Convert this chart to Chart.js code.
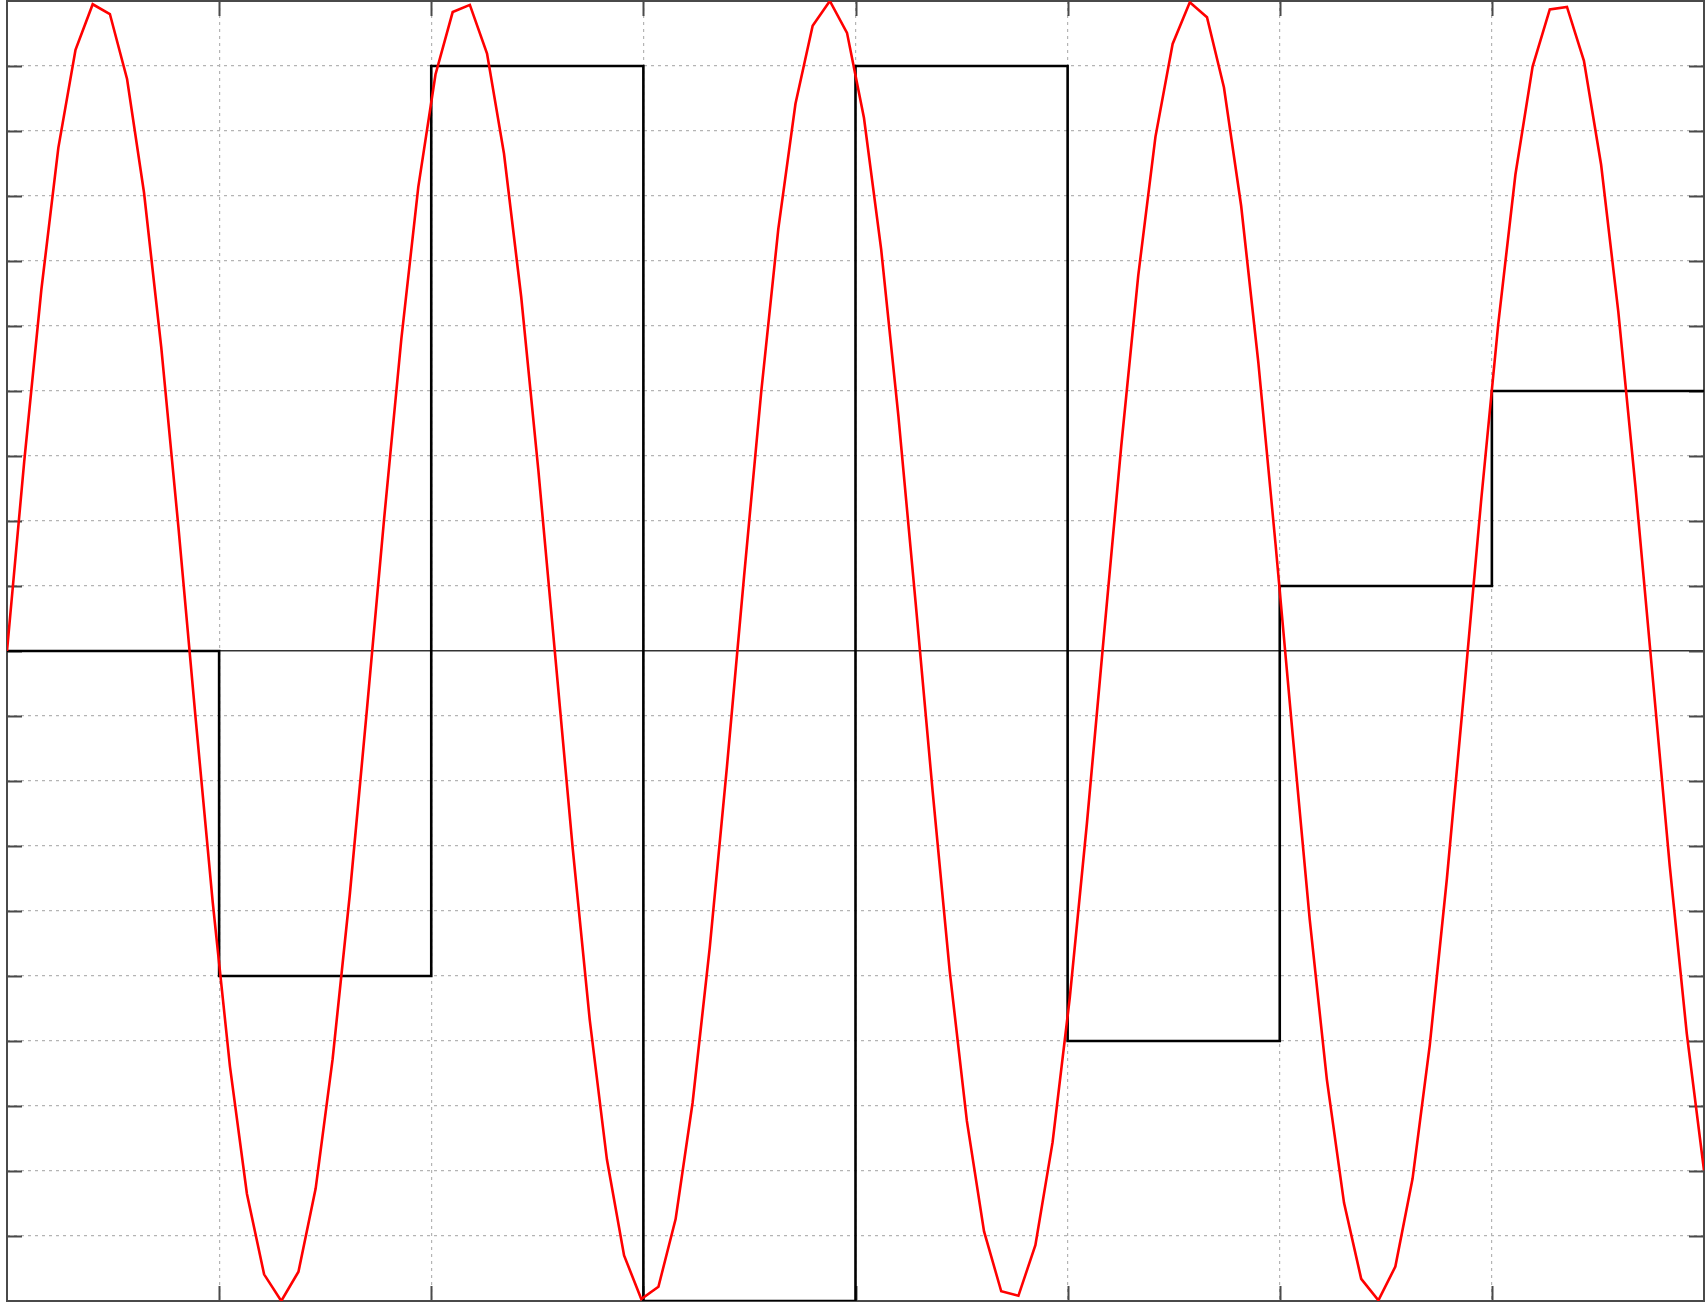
<!DOCTYPE html>
<html lang="en">
<head>
    <meta charset="UTF-8">
    <title>Sine and step</title>
    <script src="https://cdn.jsdelivr.net/npm/chart.js"></script>
    <style>
        html, body { margin: 0; padding: 0; background: #fff; overflow: hidden; }
        #wrap { width: 1706px; height: 1303px; position: relative; }
    </style>
</head>
<body>
    <div id="wrap"><canvas id="plot"></canvas></div>

    <script>
        // sampled sine (red)
        const sineX = [
            0, 0.081, 0.162, 0.242, 0.323, 0.404, 0.485, 0.566, 0.646, 0.727,
            0.808, 0.889, 0.970, 1.051, 1.131, 1.212, 1.293, 1.374, 1.455, 1.535,
            1.616, 1.697, 1.778, 1.859, 1.939, 2.020, 2.101, 2.182, 2.263, 2.343,
            2.424, 2.505, 2.586, 2.667, 2.747, 2.828, 2.909, 2.990, 3.071, 3.152,
            3.232, 3.313, 3.394, 3.475, 3.556, 3.636, 3.717, 3.798, 3.879, 3.960,
            4.040, 4.121, 4.202, 4.283, 4.364, 4.444, 4.525, 4.606, 4.687, 4.768,
            4.848, 4.929, 5.010, 5.091, 5.172, 5.253, 5.333, 5.414, 5.495, 5.576,
            5.657, 5.737, 5.818, 5.899, 5.980, 6.061, 6.141, 6.222, 6.303, 6.384,
            6.465, 6.545, 6.626, 6.707, 6.788, 6.869, 6.949, 7.030, 7.111, 7.192,
            7.273, 7.354, 7.434, 7.515, 7.596, 7.677, 7.758, 7.838, 7.919, 8.000
        ];
        const sineY = [
            0, 0.291, 0.556, 0.774, 0.925, 0.995, 0.980, 0.880, 0.705, 0.468,
            0.191, -0.103, -0.387, -0.639, -0.835, -0.959, -1.000, -0.955, -0.827, -0.628,
            -0.375, -0.089, 0.204, 0.480, 0.714, 0.887, 0.983, 0.994, 0.919, 0.765,
            0.545, 0.278, -0.013, -0.304, -0.567, -0.782, -0.930, -0.997, -0.978, -0.874,
            -0.695, -0.456, -0.178, 0.116, 0.400, 0.649, 0.842, 0.962, 1.000, 0.951,
            0.820, 0.618, 0.362, 0.076, -0.217, -0.492, -0.723, -0.893, -0.985, -0.992,
            -0.914, -0.756, -0.534, -0.265, 0.027, 0.316, 0.578, 0.791, 0.934, 0.998,
            0.975, 0.867, 0.685, 0.444, 0.165, -0.129, -0.412, -0.659, -0.849, -0.966,
            -0.999, -0.947, -0.812, -0.607, -0.350, -0.062, 0.230, 0.503, 0.733, 0.899,
            0.987, 0.991, 0.908, 0.748, 0.522, 0.252, -0.040, -0.329, -0.589, -0.799
        ];

        // step signal (black), value held until the next x
        const stepX = [0, 1, 2, 3, 4, 5, 6, 7, 8];
        const stepY = [0, -0.5, 0.9, -1, 0.9, -0.6, 0.1, 0.4, 0.4];

        const isZero = v => Math.abs(v) < 1e-9;

        // frame + inward tick marks, drawn from the scales
        const framePlugin = {
            id: 'frame',
            beforeDatasetsDraw(chart) {
                const { ctx, chartArea: a, scales } = chart;
                const len = 15;
                ctx.save();
                ctx.strokeStyle = '#4a4a4a';
                ctx.lineWidth = 2;
                ctx.beginPath();
                scales.y.ticks.forEach(t => {
                    if (Math.abs(t.value) >= 0.999) return;
                    const py = Math.round(scales.y.getPixelForValue(t.value)) + 0.5;
                    ctx.moveTo(a.left, py); ctx.lineTo(a.left + len, py);
                    ctx.moveTo(a.right, py); ctx.lineTo(a.right - len, py);
                });
                scales.x.ticks.forEach(t => {
                    if (t.value <= 0 || t.value >= 8) return;
                    const px = Math.round(scales.x.getPixelForValue(t.value)) + 0.5;
                    ctx.moveTo(px, a.top); ctx.lineTo(px, a.top + len);
                    ctx.moveTo(px, a.bottom); ctx.lineTo(px, a.bottom - len);
                });
                ctx.stroke();
                ctx.strokeRect(a.left, a.top, a.right - a.left, a.bottom - a.top);
                ctx.restore();
            }
        };

        const ctx = document.getElementById('plot').getContext('2d');
        new Chart(ctx, {
            type: 'line',
            data: {
                datasets: [
                    {
                        label: 'step',
                        data: stepX.map((x, i) => ({ x, y: stepY[i] })),
                        stepped: 'before',
                        borderColor: '#000000',
                        borderWidth: 2.6,
                        pointRadius: 0,
                        fill: false,
                        order: 2
                    },
                    {
                        label: 'sine',
                        data: sineX.map((x, i) => ({ x, y: sineY[i] })),
                        borderColor: '#ff0000',
                        borderWidth: 2.6,
                        pointRadius: 0,
                        tension: 0,
                        fill: false,
                        order: 1
                    }
                ]
            },
            options: {
                responsive: true,
                maintainAspectRatio: false,
                animation: false,
                events: [],
                layout: { padding: { left: 7, top: 1, right: 2, bottom: 2 } },
                plugins: { legend: { display: false }, tooltip: { enabled: false } },
                scales: {
                    x: {
                        type: 'linear',
                        min: 0,
                        max: 8,
                        ticks: { display: false, stepSize: 1 },
                        grid: { color: '#b4b4b4', lineWidth: 1.2, drawTicks: false },
                        border: { display: false, dash: [3, 4] }
                    },
                    y: {
                        type: 'linear',
                        min: -1,
                        max: 1,
                        ticks: { display: false, stepSize: 0.1 },
                        grid: {
                            drawTicks: false,
                            color: c => (c.tick && isZero(c.tick.value)) ? '#333333' : '#b4b4b4',
                            lineWidth: c => (c.tick && isZero(c.tick.value)) ? 1.6 : 1.2
                        },
                        border: {
                            display: false,
                            dash: c => (c.tick && isZero(c.tick.value)) ? [] : [3, 4]
                        }
                    }
                }
            },
            plugins: [framePlugin]
        });
    </script>
</body>
</html>
